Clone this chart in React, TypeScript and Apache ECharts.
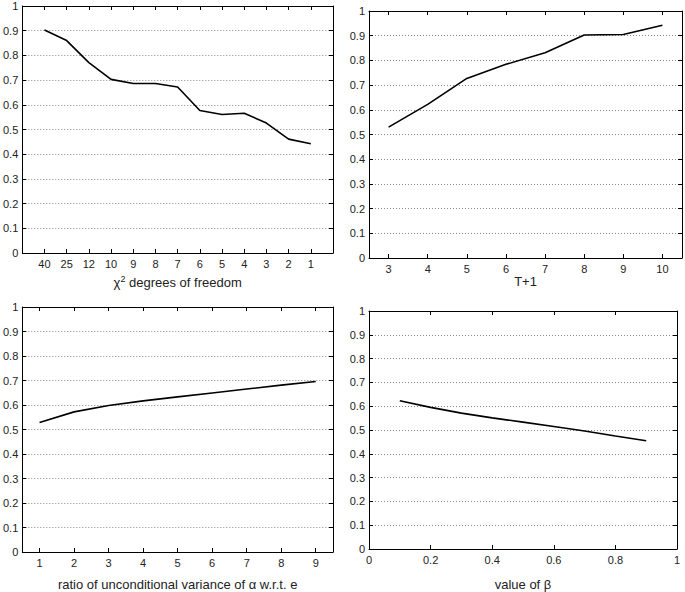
import React, { useEffect, useRef } from "react";
import * as echarts from "echarts";

// Panel 1: chi^2 degrees of freedom
const dofLabels = ["40", "25", "12", "10", "9", "8", "7", "6", "5", "4", "3", "2", "1"];
const dofValues = [0.903, 0.86, 0.771, 0.703, 0.686, 0.686, 0.672, 0.577, 0.561, 0.566, 0.526, 0.461, 0.442];

// Panel 2: T+1
const tValues = [3, 4, 5, 6, 7, 8, 9, 10];
const tScores = [0.53, 0.622, 0.727, 0.784, 0.831, 0.903, 0.905, 0.942];

// Panel 3: ratio of unconditional variance
const ratioValues = [1, 2, 3, 4, 5, 6, 7, 8, 9];
const ratioScores = [0.529, 0.572, 0.598, 0.617, 0.633, 0.649, 0.665, 0.681, 0.696];

// Panel 4: value of beta
const betaValues = [0.1, 0.2, 0.3, 0.4, 0.5, 0.6, 0.7, 0.8, 0.9];
const betaScores = [0.623, 0.595, 0.571, 0.551, 0.533, 0.515, 0.496, 0.475, 0.455];

const FONT = "'Liberation Sans', Arial, Helvetica, sans-serif";
const TXT = "#222";

export default function App() {
  const ref = useRef<HTMLDivElement>(null);
  useEffect(() => {
    if (!ref.current) return;
    const chart = echarts.init(ref.current, null, { renderer: "svg" });

    const grids = [
      { left: 20, top: 6, width: 313, height: 247 },
      { left: 369, top: 11, width: 313, height: 247 },
      { left: 20, top: 307, width: 313, height: 247 },
      { left: 369, top: 311, width: 308, height: 243 },
    ];

    const axisLine = { show: true, onZero: false, lineStyle: { color: "#000", width: 1 } };
    const tick = (custom?: number[]) => ({
      show: true,
      inside: true,
      length: 4,
      lineStyle: { color: "#000", width: 1 },
      ...(custom ? { customValues: custom } : {}),
    });

    const xDefs: any[] = [
      {
        min: 0, max: 14, custom: dofLabels.map((_, i) => i + 1),
        fmt: (v: number) => dofLabels[Math.round(v) - 1] ?? "",
        name: "{c|χ}{s|2}{c| degrees of freedom}", gap: 21,
      },
      { min: 2.5, max: 10.5, custom: tValues, fmt: (v: number) => String(v), name: "T+1", gap: 17 },
      { min: 0.5, max: 9.5, custom: ratioValues, fmt: (v: number) => String(v), name: "ratio of unconditional variance of α w.r.t. e", gap: 26 },
      { min: 0, max: 1, interval: 0.2, fmt: (v: number) => String(+v.toFixed(1)), name: "value of β", gap: 29 },
    ];

    const xAxis: any[] = [];
    const yAxis: any[] = [];
    xDefs.forEach((d, i) => {
      const common: any = { type: "value", gridIndex: i, min: d.min, max: d.max };
      if (d.interval) common.interval = d.interval;
      xAxis.push({
        ...common,
        position: "bottom",
        axisLine,
        axisTick: tick(d.custom),
        axisLabel: {
          show: true,
          margin: 5,
          fontSize: 11,
          color: TXT,
          fontFamily: FONT,
          formatter: d.fmt,
          showMinLabel: true,
          showMaxLabel: true,
          ...(d.custom ? { customValues: d.custom } : {}),
        },
        splitLine: { show: false },
        name: d.name,
        nameLocation: "middle",
        nameGap: d.gap,
        nameTextStyle: {
          fontSize: 13,
          color: TXT,
          fontFamily: FONT,
          rich: {
            c: { fontSize: 13, color: TXT, fontFamily: FONT },
            s: { fontSize: 9, color: TXT, fontFamily: FONT, verticalAlign: "top", padding: [0, 0, 8, 0] },
          },
        },
      });
      xAxis.push({
        ...common,
        position: "top",
        axisLine,
        axisTick: tick(d.custom),
        axisLabel: { show: false },
        splitLine: { show: false },
      });
      yAxis.push({
        type: "value",
        gridIndex: i,
        min: 0,
        max: 1,
        interval: 0.1,
        position: "left",
        axisLine,
        axisTick: tick(),
        axisLabel: {
          margin: 4,
          fontSize: 11,
          color: TXT,
          fontFamily: FONT,
          formatter: (v: number) => String(+v.toFixed(1)),
        },
        splitLine: {
          show: true,
          lineStyle: { color: "#888", width: 1, type: [1, 2] },
        },
      });
      yAxis.push({
        type: "value",
        gridIndex: i,
        min: 0,
        max: 1,
        interval: 0.1,
        position: "right",
        axisLine,
        axisTick: tick(),
        axisLabel: { show: false },
        splitLine: { show: false },
      });
    });

    const lineSeries = (i: number, data: number[][]) => ({
      type: "line",
      xAxisIndex: i * 2,
      yAxisIndex: i * 2,
      data,
      showSymbol: false,
      symbol: "none",
      lineStyle: { color: "#000", width: 1.6 },
      silent: true,
    });

    chart.setOption({
      animation: false,
      backgroundColor: "#fff",
      grid: grids.map((g) => ({ ...g, containLabel: false })),
      xAxis,
      yAxis,
      series: [
        lineSeries(0, dofValues.map((v, i) => [i + 1, v])),
        lineSeries(1, tValues.map((x, i) => [x, tScores[i]])),
        lineSeries(2, ratioValues.map((x, i) => [x, ratioScores[i]])),
        lineSeries(3, betaValues.map((x, i) => [x, betaScores[i]])),
      ],
    });
    return () => chart.dispose();
  }, []);

  return (
    <div
      ref={ref}
      style={{ position: "fixed", left: 0, top: 0, width: 685, height: 592, background: "#fff" }}
    />
  );
}
